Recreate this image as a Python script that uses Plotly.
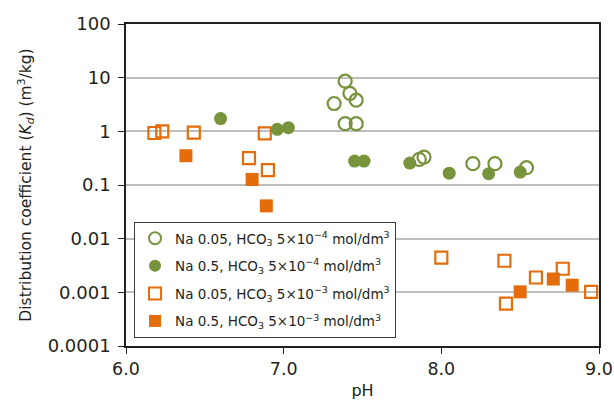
import plotly.graph_objects as go

# Data (pH, Kd m3/kg)
ph_open_green = [7.39, 7.42, 7.46, 7.32, 7.39, 7.46, 7.86, 7.89, 8.20, 8.34, 8.54]
kd_open_green = [8.6, 5.1, 3.8, 3.3, 1.39, 1.39, 0.30, 0.33, 0.25, 0.25, 0.21]

ph_fill_green = [6.60, 6.96, 7.03, 7.45, 7.51, 7.80, 8.05, 8.30, 8.50]
kd_fill_green = [1.73, 1.09, 1.17, 0.279, 0.279, 0.256, 0.166, 0.162, 0.174]

ph_open_orange = [6.18, 6.23, 6.43, 6.88, 6.78, 6.90, 8.00, 8.40, 8.60, 8.77, 8.41, 8.95]
kd_open_orange = [0.93, 1.0, 0.95, 0.92, 0.317, 0.19, 0.00442, 0.00388, 0.00189, 0.00275, 0.000618, 0.00102]

ph_fill_orange = [6.38, 6.80, 6.89, 8.50, 8.71, 8.83]
kd_fill_orange = [0.351, 0.127, 0.0408, 0.00102, 0.00177, 0.00136]

series_names = [
    "Na 0.05, HCO<sub>3</sub> 5×10<sup>−4</sup> mol/dm<sup>3</sup>",
    "Na 0.5, HCO<sub>3</sub> 5×10<sup>−4</sup> mol/dm<sup>3</sup>",
    "Na 0.05, HCO<sub>3</sub> 5×10<sup>−3</sup> mol/dm<sup>3</sup>",
    "Na 0.5, HCO<sub>3</sub> 5×10<sup>−3</sup> mol/dm<sup>3</sup>",
]

y_tickvals = [0.0001, 0.001, 0.01, 0.1, 1, 10, 100]
y_ticktext = ["0.0001", "0.001", "0.01", "0.1", "1", "10", "100"]
x_tickvals = [6, 7, 8, 9]
x_ticktext = ["6.0", "7.0", "8.0", "9.0"]

GREEN = "#77933C"
ORANGE = "#E46C0A"
INK = "#231F20"
FONT = "DejaVu Sans, Liberation Sans, sans-serif"

fig = go.Figure()
fig.add_trace(go.Scatter(x=ph_open_green, y=kd_open_green, mode="markers", name=series_names[0],
                         legendgroup="a",
                         marker=dict(symbol="circle-open", size=13, color=GREEN, line=dict(width=2.2, color=GREEN))))
fig.add_trace(go.Scatter(x=ph_fill_green, y=kd_fill_green, mode="markers", name=series_names[1],
                         legendgroup="b",
                         marker=dict(symbol="circle", size=13, color=GREEN, line=dict(width=0))))
fig.add_trace(go.Scatter(x=ph_open_orange, y=kd_open_orange, mode="markers", name=series_names[2],
                         legendgroup="c",
                         marker=dict(symbol="square-open", size=12, color=ORANGE, line=dict(width=2.2, color=ORANGE))))
fig.add_trace(go.Scatter(x=ph_fill_orange, y=kd_fill_orange, mode="markers", name=series_names[3],
                         legendgroup="d",
                         marker=dict(symbol="square", size=13, color=ORANGE, line=dict(width=0))))

fig.update_layout(
    width=614, height=403,
    margin=dict(l=126, r=15, t=24, b=57, autoexpand=False),
    paper_bgcolor="white", plot_bgcolor="white",
    font=dict(family=FONT, color=INK, size=16),
    showlegend=True,
    legend=dict(x=0.017, y=0.385, xanchor="left", yanchor="top",
                bordercolor="#3a3a3a", borderwidth=1, bgcolor="white",
                font=dict(size=13.5), tracegroupgap=7, itemsizing="constant"),
    xaxis=dict(range=[6, 9], tickvals=x_tickvals, ticktext=x_ticktext,
               showline=True, linecolor=INK, linewidth=1.5, mirror=True,
               ticks="outside", ticklen=6, tickcolor=INK,
               showgrid=False, zeroline=False, automargin=False,
               title=dict(text="pH", font=dict(size=16), standoff=7),
               tickfont=dict(size=17.5)),
    yaxis=dict(type="log", range=[-4, 2], tickvals=y_tickvals, ticktext=y_ticktext,
               showline=True, linecolor=INK, linewidth=1.5, mirror=True,
               ticks="outside", ticklen=6, tickcolor=INK, ticklabelstandoff=4,
               showgrid=True, gridcolor="#BEBEBE", gridwidth=1.5, zeroline=False, automargin=False,
               title=dict(text="Distribution coefficient (<i>K</i><sub><i>d</i></sub>) (m<sup>3</sup>/kg)",
                          font=dict(size=15.5), standoff=12),
               tickfont=dict(size=18)),
)

fig.write_html("out.html", config={"displayModeBar": False},
               post_script="document.body.style.margin='0';document.body.style.overflow='hidden';")
